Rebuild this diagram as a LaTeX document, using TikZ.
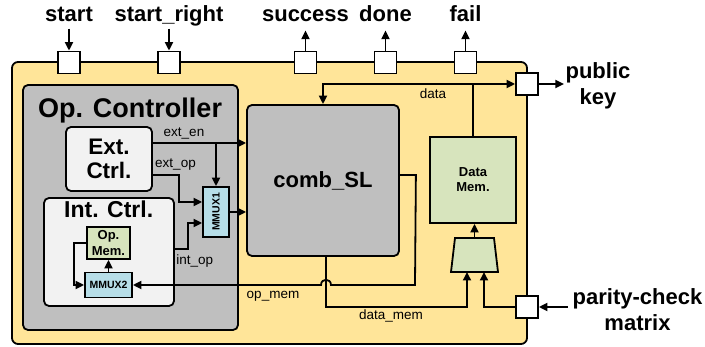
\documentclass[tikz,border=0pt]{standalone}
\usepackage{fontspec}
\setmainfont{Liberation Sans}
\usetikzlibrary{arrows.meta}
\definecolor{chipyellow}{RGB}{255,229,153}
\definecolor{ctrlgray}{RGB}{191,191,191}
\definecolor{boxlight}{RGB}{242,242,242}
\definecolor{memgreen}{RGB}{215,228,189}
\definecolor{muxblue}{RGB}{183,222,232}

\begin{document}
\begin{tikzpicture}[x=1pt,y=-1pt,
    blk/.style={draw, line width=1.8pt, inner sep=0pt, align=center},
    port/.style={draw, line width=1.8pt, fill=white, minimum size=22pt, inner sep=0pt},
    sig/.style={line width=1.8pt, -{Triangle[length=8.5pt,width=8pt]}},
    sigtxt/.style={anchor=base, inner sep=0pt, font=\fontsize{13.5}{15}\selectfont},
    big/.style={inner sep=0pt, font=\fontsize{22}{26}\selectfont\bfseries}]
        \useasboundingbox (0,0) rectangle (705,347);

        \node[blk, fill=chipyellow, rounded corners=6pt, minimum width=515pt, minimum height=282pt] (chip) at (269.5,203) {};

        \foreach \nm/\px in {pst/69, psr/169, psu/305.5, pdn/385.5, pfl/465.5} {
          \node[port] (\nm) at (\px,62.5) {};
        }
        \node[port] (ppk) at (527,84) {};
        \node[port] (ppc) at (527,307) {};

        \foreach \nm/\px/\txt in {lst/69/start, lsr/169/start\_right, lsu/305.5/success, ldn/385.5/done, lfl/465.5/fail} {
          \node[big, anchor=base] (\nm) at (\px,22) {\txt};
        }
        \node[big, align=center] (lpk) at (598,85.5) {public\\key};
        \node[big, align=center] (lpc) at (637.5,309.5) {parity-check\\matrix};

        \node[blk, fill=ctrlgray, rounded corners=5pt, minimum width=215pt, minimum height=245pt] (opc) at (130.5,207.5) {};
        \node[anchor=base, inner sep=0pt, font=\fontsize{27}{30}\selectfont\bfseries] (lopc) at (130,118) {Op. Controller};
        \node[blk, fill=boxlight, rounded corners=5pt, minimum width=86pt, minimum height=64pt, font=\fontsize{22.5}{24}\selectfont\bfseries] (ext) at (109,159) {Ext.\\Ctrl.};
        \node[blk, fill=boxlight, rounded corners=5pt, minimum width=130pt, minimum height=108pt] (int) at (109,252) {};
        \node[anchor=base, inner sep=0pt, font=\fontsize{23}{26}\selectfont\bfseries] (lint) at (108.7,218) {Int. Ctrl.};
        \node[blk, fill=memgreen, minimum width=43pt, minimum height=32pt, font=\fontsize{13}{16}\selectfont\bfseries] (opmem) at (108.5,243) {Op.\\Mem.};
        \node[blk, fill=muxblue, minimum width=47pt, minimum height=25pt, font=\fontsize{10.5}{12}\selectfont\bfseries] (mmux2) at (108.5,285) {MMUX2};
        \node[blk, fill=muxblue, minimum width=26pt, minimum height=50pt] (mmux1) at (216,212) {};
        \node[rotate=90, inner sep=0pt, font=\fontsize{10.5}{12}\selectfont\bfseries] (lmmux1) at (mmux1.center) {MMUX1};

        \node[blk, fill=ctrlgray, rounded corners=5pt, minimum width=152pt, minimum height=151pt, font=\fontsize{22}{24}\selectfont\bfseries] (comb) at (323,180.5) {comb\_SL};
        \node[blk, fill=memgreen, minimum width=86pt, minimum height=86pt, font=\fontsize{13}{15}\selectfont\bfseries] (dmem) at (473,180) {Data\\Mem.};
        \node[inner sep=0pt, outer sep=0pt, minimum width=47pt, minimum height=34pt] (mux) at (474.5,255) {};
        \draw[line width=1.8pt, fill=memgreen] (mux.south west) -- ([xshift=4pt]mux.north west) -- ([xshift=-4pt]mux.north east) -- (mux.south east) -- cycle;

        \coordinate (dsplit) at (dmem.north |- ppk.west);
        \draw[sig] (dmem.north) |- (ppk.west);
        \draw[sig] (dsplit) -| (comb.north);
        \node[sigtxt] (ldata) at (433,99) {data};

        \coordinate (enout) at ([yshift=16pt]ext.east);
        \draw[sig] (enout) -- (enout -| comb.west);
        \draw[sig] (enout -| mmux1.north) -- (mmux1.north);
        \node[sigtxt] (lexten) at (184,137) {ext\_en};

        \coordinate (opout) at ([yshift=-16pt]ext.east);
        \draw[sig] (opout) -- ++(26,0) |- ([yshift=10pt]mmux1.west);
        \node[sigtxt] (lextop) at (175.5,168) {ext\_op};

        \draw[sig] ([yshift=3pt]int.east) -- ++(13,0) |- ([yshift=-11pt]mmux1.west);
        \node[sigtxt] (lintop) at (194.7,265) {int\_op};

        \draw[sig] (mmux1.east) -- (mmux1.east -| comb.west);

        \draw[sig] ([yshift=5.5pt]comb.east) -- ++(16,0) -- (415,285) -- (331,285) .. controls (331,278) and (321,278) .. (321,285) -- (mmux2.east);
        \node[sigtxt] (lopmem) at (273,299) {op\_mem};

        \draw[sig] ([xshift=3pt]comb.south) |- (467,307) -- ([xshift=-7.5pt]mux.south);
        \node[sigtxt] (ldmem) at (391,320) {data\_mem};
        \draw[sig] (ppc.west) -| ([xshift=9.5pt]mux.south);
        \draw[sig] (mux.north) -- (mux.north |- dmem.south);

        \draw[sig] (mmux2.north) -- (opmem.south);
        \draw[sig] (opmem.west) -- ++(-12,0) |- (mmux2.west);

        \foreach \nm in {pst, psr} {
          \draw[sig] ([yshift=22pt]\nm.north) -- (\nm.north);
        }
        \foreach \nm in {psu, pdn, pfl} {
          \draw[sig] (\nm.north) -- ([yshift=20pt]\nm.north);
        }
        \draw[sig] (ppk.east) -- ([xshift=25pt]ppk.east);
        \draw[sig] ([xshift=29pt]ppc.east) -- (ppc.east);
      \end{tikzpicture}
\end{document}
